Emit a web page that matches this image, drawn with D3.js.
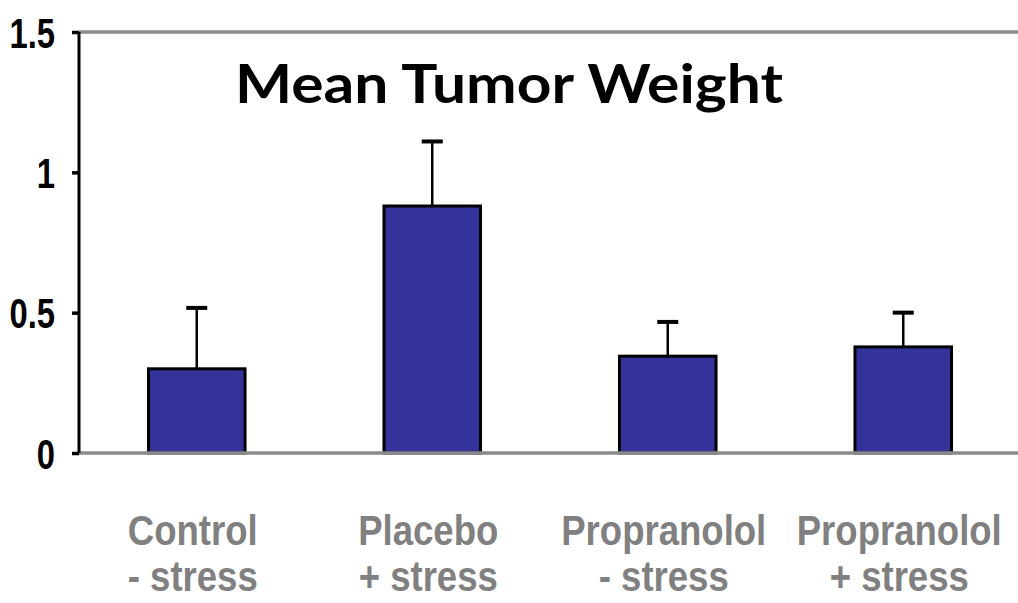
<!DOCTYPE html>
<html>
<head>
<meta charset="utf-8">
<script src="https://cdn.jsdelivr.net/npm/d3@7"></script>
<style>
  html, body { margin: 0; padding: 0; background: #fff; }
  svg { display: block; }
</style>
</head>
<body>
<svg id="chart" width="1018" height="603"></svg>
<script>
// Mean tumor weight per treatment group, with upper error bars (mean + SE)
const groupLine1 = ["Control", "Placebo", "Propranolol", "Propranolol"];
const groupLine2 = ["- stress", "+ stress", "- stress", "+ stress"];
const meanWeight = [0.30, 0.88, 0.345, 0.378];
const errorTop = [0.517, 1.11, 0.467, 0.50];
const yTicks = [0, 0.5, 1, 1.5];
const titleText = "Mean Tumor Weight";

const svg = d3.select("#chart");
const W = 1018, H = 603;
const plotLeft = 79, plotRight = 1021, plotTop = 32, plotBottom = 453;

const groups = groupLine1.map((d, i) => i);

const x = d3.scaleBand()
  .domain(groups)
  .range([plotLeft, plotRight])
  .paddingInner(0.59)
  .paddingOuter(0.295);

const y = d3.scaleLinear()
  .domain([0, 1.5])
  .range([plotBottom, plotTop]);

// gray frame line at the top of the value range
svg.append("line")
  .attr("x1", plotLeft).attr("x2", W)
  .attr("y1", y(1.5)).attr("y2", y(1.5))
  .attr("stroke", "#8a8a8a").attr("stroke-width", 3.5);

// bars
svg.append("g").selectAll("rect")
  .data(groups)
  .join("rect")
  .attr("x", i => x(i))
  .attr("y", i => y(meanWeight[i]))
  .attr("width", x.bandwidth())
  .attr("height", i => y(0) - y(meanWeight[i]))
  .attr("fill", "#333399")
  .attr("stroke", "#000")
  .attr("stroke-width", 3);

// error bars: stem and cap
const err = svg.append("g");
err.selectAll("line.stem")
  .data(groups)
  .join("line")
  .attr("class", "stem")
  .attr("x1", i => x(i) + x.bandwidth() / 2)
  .attr("x2", i => x(i) + x.bandwidth() / 2)
  .attr("y1", i => y(meanWeight[i]))
  .attr("y2", i => y(errorTop[i]))
  .attr("stroke", "#000").attr("stroke-width", 2.5);
err.selectAll("line.cap")
  .data(groups)
  .join("line")
  .attr("class", "cap")
  .attr("x1", i => x(i) + x.bandwidth() / 2 - 10.5)
  .attr("x2", i => x(i) + x.bandwidth() / 2 + 10.5)
  .attr("y1", i => y(errorTop[i]))
  .attr("y2", i => y(errorTop[i]))
  .attr("stroke", "#000").attr("stroke-width", 4);

// zero baseline drawn over bar bottoms
svg.append("line")
  .attr("x1", plotLeft).attr("x2", W)
  .attr("y1", y(0)).attr("y2", y(0))
  .attr("stroke", "#8a8a8a").attr("stroke-width", 3.5);

// value axis
const yAxis = d3.axisLeft(y)
  .tickValues(yTicks)
  .tickSize(7)
  .tickSizeOuter(0)
  .tickFormat(d3.format(""));

const ag = svg.append("g")
  .attr("transform", `translate(${plotLeft},0)`)
  .call(yAxis);
ag.select(".domain")
  .attr("stroke", "#000").attr("stroke-width", 3)
  .attr("d", `M0,${y(1.5)}V${y(0)}`);
ag.selectAll(".tick line").attr("stroke", "#000").attr("stroke-width", 3.5);
ag.selectAll(".tick text")
  .attr("fill", "#000")
  .attr("font-family", "'Liberation Sans', Arial, sans-serif")
  .attr("font-weight", "bold")
  .attr("font-size", 42)
  .attr("dy", "0.36em")
  .attr("x", 0)
  .attr("transform", "translate(-24,0) scale(0.78,1)");

// category labels, two lines each
const lab = svg.append("g")
  .attr("font-family", "'Liberation Sans', Arial, sans-serif")
  .attr("font-weight", "bold")
  .attr("font-size", 42)
  .attr("fill", "#808080")
  .attr("text-anchor", "middle");
groups.forEach(i => {
  const cx = x(i) + x.bandwidth() / 2 - 4;
  const t = lab.append("g").attr("transform", `translate(${cx},0) scale(0.87,1)`);
  t.append("text").attr("x", 0).attr("y", 545).text(groupLine1[i]);
  t.append("text").attr("x", 0).attr("y", 591).text(groupLine2[i]);
});

// title
svg.append("text")
  .attr("x", 509)
  .attr("y", 103)
  .attr("text-anchor", "middle")
  .attr("font-family", "Lato, 'Open Sans', sans-serif")
  .attr("font-weight", "bold")
  .attr("font-size", 53)
  .attr("fill", "#000")
  .attr("textLength", 548)
  .attr("lengthAdjust", "spacingAndGlyphs")
  .text(titleText);
</script>
</body>
</html>
